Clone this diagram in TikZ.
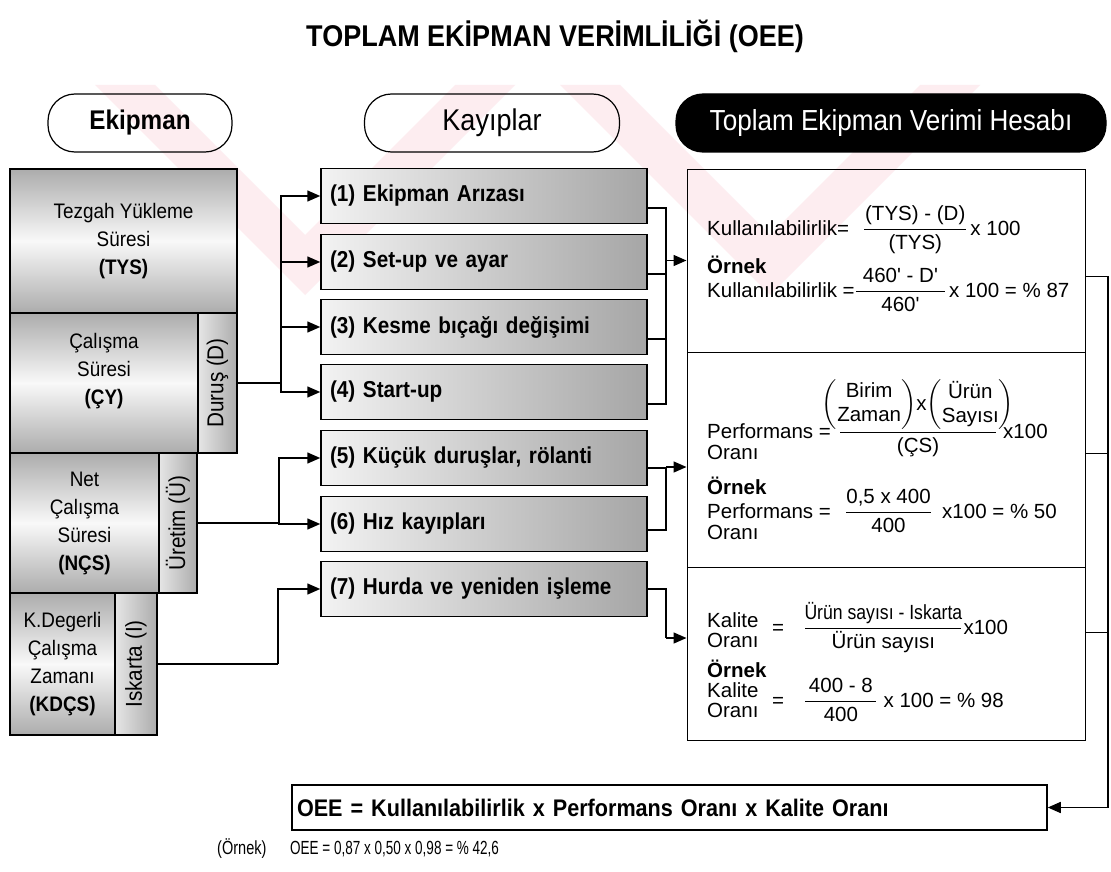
\documentclass[tikz,border=0pt]{standalone}
\usepackage{amsmath}
\usepackage{graphicx}
\usepackage{fontspec}
\setmainfont{Liberation Sans}[FakeStretch=0.9]
\newfontfamily\duz{Liberation Sans}
\usetikzlibrary{arrows.meta}

\definecolor{filigran}{RGB}{253,237,240}

\newcommand{\kesir}[3]{$\dfrac{\makebox[#1]{#2}}{\makebox[#1]{#3}}$}
\newcommand{\parantez}[1]{$\left(\begin{tabular}{@{}c@{}}#1\end{tabular}\right)$}

\tikzset{
  pill/.style={draw, line width=1.2pt, rounded corners=27pt, minimum height=58pt, inner sep=0pt},
  ekip/.style={draw, line width=1.2pt, inner sep=0pt, align=center,
    top color=gray!65, bottom color=gray!65, middle color=gray!5,
    font=\fontsize{21}{28}\selectfont},
  serit/.style={draw, line width=1.2pt, inner sep=0pt,
    left color=gray!20, right color=gray!65, font=\fontsize{23}{24}\selectfont},
  kayip/.style={draw, line width=1.5pt, minimum width=326pt, minimum height=55pt,
    text width=308pt, align=left, inner xsep=9pt,
    left color=gray!10, right color=gray!70, font=\bfseries\fontsize{23}{26}\selectfont},
  hesapkutu/.style={draw, line width=1pt, minimum width=398pt, inner sep=0pt},
  yazi/.style={inner sep=0pt, anchor=base west, font=\duz\fontsize{20.5}{24}\selectfont},
  kalin/.style={font=\duz\bfseries\fontsize{20.5}{24}\selectfont},
  hat/.style={line width=1.5pt},
  ok/.style={line width=1.5pt, -{Triangle[length=13pt,width=11pt]}},
}

\begin{document}
\begin{tikzpicture}[x=1pt,y=-1pt]
\useasboundingbox (0,0) rectangle (1111,872);
\fill[white] (0,0) rectangle (1111,872);

% filigran
\fill[filigran] (95,85) -- (155,85) -- (305,235) -- (455,85) -- (515,85) -- (305,295) -- cycle;
\fill[filigran] (560,85) -- (620,85) -- (770,235) -- (920,85) -- (980,85) -- (770,295) -- cycle;

\node[font=\bfseries\fontsize{30}{32}\selectfont] (baslik) at (555,36) {TOPLAM EKİPMAN VERİMLİLİĞİ (OEE)};

\node[pill, minimum width=184pt, font=\bfseries\fontsize{27}{30}\selectfont] (ekipman) at (140,123) {Ekipman};
\node[pill, minimum width=255pt, font=\fontsize{30}{32}\selectfont] (kayiplar) at (492,123) {Kayıplar};
\node[pill, fill=black, text=white, minimum width=430pt, font=\fontsize{29}{32}\selectfont] (hesap) at (891,123) {Toplam Ekipman Verimi Hesabı};

% ekipman sureleri
\node[ekip, minimum width=227pt, minimum height=144pt] (tys) at (123.5,241) {Tezgah Yükleme\\Süresi\\\textbf{(TYS)}};
\node[ekip, minimum width=188pt, minimum height=140pt] (cy) at (104,383) {Çalışma\\Süresi\\\textbf{(ÇY)}\\\mbox{}};
\node[serit, minimum width=39pt, minimum height=140pt] (D) at (217.5,383) {\rotatebox{90}{Duruş (D)}};
\node[ekip, minimum width=149pt, minimum height=140pt] (ncs) at (84.5,523) {Net\\Çalışma\\Süresi\\\textbf{(NÇS)}};
\node[serit, minimum width=38pt, minimum height=140pt] (U) at (178,523) {\rotatebox{90}{Üretim (Ü)}};
\node[ekip, minimum width=105pt, minimum height=142pt] (kdcs) at (62.5,664) {K.Degerli\\Çalışma\\Zamanı\\\textbf{(KDÇS)}};
\node[serit, minimum width=42pt, minimum height=142pt] (I) at (136,664) {\rotatebox{90}{Iskarta (I)}};

% kayiplar
\node[kayip] (k1) at (484,196) {(1) Ekipman Arızası};
\node[kayip] (k2) at (484,262) {(2) Set-up ve ayar};
\node[kayip] (k3) at (484,327) {(3) Kesme bıçağı değişimi};
\node[kayip] (k4) at (484,392) {(4) Start-up};
\node[kayip] (k5) at (484,458) {(5) Küçük duruşlar, rölanti};
\node[kayip] (k6) at (484,524) {(6) Hız kayıpları};
\node[kayip] (k7) at (484,589) {(7) Hurda ve yeniden işleme};

% hesap kutulari
\node[hesapkutu, minimum height=183pt] (kul) at (886,260.5) {};
\node[hesapkutu, minimum height=215pt] (perf) at (886,459.5) {};
\node[hesapkutu, minimum height=173pt] (kal) at (886,653.5) {};

\node[yazi] (kulf) at (707,235) {Kullanılabilirlik=\hspace{14pt}\kesir{102pt}{(TYS) - (D)}{(TYS)}\hspace{3pt}x 100};
\node[yazi, kalin] (kulo) at (707,273) {Örnek};
\node[yazi] (kule) at (707,297) {Kullanılabilirlik =\kesir{89pt}{460' - D'}{460'}\hspace{3pt}x 100 = \% 87};

\node[yazi] (perff) at (707,438) {Performans =\hspace{8pt}\kesir{156pt}{\parantez{Birim\\Zaman}x\parantez{Ürün\\Sayısı}}{(ÇS)}\hspace{6pt}x100};
\node[yazi] (perfo) at (707,459) {Oranı};
\node[yazi, kalin] (perfx) at (707,494) {Örnek};
\node[yazi] (perfe) at (707,518) {Performans =\hspace{14pt}\kesir{85pt}{0,5 x 400}{400}\hspace{10pt}x100 = \% 50};
\node[yazi] (perfo2) at (707,539) {Oranı};

\node[yazi] (kall) at (707,627) {Kalite};
\node[yazi] (kalo) at (707,647) {Oranı};
\node[yazi] (kalf) at (772,634) {=\hspace{20pt}\kesir{156pt}{\scalebox{0.86}[1]{Ürün sayısı - Iskarta}}{Ürün sayısı}\hspace{1pt}x100};
\node[yazi, kalin] (kalx) at (707,677) {Örnek};
\node[yazi] (kall2) at (707,697) {Kalite};
\node[yazi] (kalo2) at (707,717) {Oranı};
\node[yazi] (kale) at (772,707) {=\hspace{20pt}\kesir{71pt}{400 - 8}{400}\hspace{6pt}x 100 = \% 98};

% sonuc
\node[draw, line width=1.5pt, minimum width=755pt, minimum height=45pt, text width=745pt, align=left,
  inner xsep=5pt, font=\bfseries\fontsize{24}{26}\selectfont] (oee) at (669.5,807.5)
  {OEE = Kullanılabilirlik x Performans Oranı x Kalite Oranı};
\node[yazi, font=\fontsize{19}{20}\selectfont] (ornek) at (217,854) {\scalebox{0.85}[1]{(Örnek)}};
\node[yazi, font=\fontsize{19}{20}\selectfont] (ornekoee) at (290,854) {\scalebox{0.79}[1]{OEE = 0,87 x 0,50 x 0,98 = \% 42,6}};

% baglantilar
\coordinate (dj) at (281,383);
\draw[hat] (D.east) -- (dj);
\draw[ok] (dj) |- (k1.west);
\draw[ok] (dj) |- (k2.west);
\draw[ok] (dj) |- (k3.west);
\draw[ok] (dj) |- (k4.west);
\coordinate (uj) at (279,523);
\draw[hat] (U.east) -- (uj);
\draw[ok] (uj) |- (k5.west);
\draw[ok] (uj) |- (k6.west);
\coordinate (ij) at (278,664);
\draw[hat] (I.east) -- (ij);
\draw[ok] (ij) |- (k7.west);

\coordinate (rj1) at (666,260.5);
\draw[hat] ([yshift=-12pt]k1.east) -| (rj1);
\draw[hat] ([yshift=-12pt]k2.east) -| (rj1);
\draw[hat] ([yshift=-12pt]k3.east) -| (rj1);
\draw[hat] ([yshift=-12pt]k4.east) -| (rj1);
\draw[ok] (rj1) -- (kul.west);
\coordinate (rj2) at (666,467);
\draw[hat] ([yshift=-10pt]k5.east) -| (rj2);
\draw[hat] ([yshift=-6pt]k6.east) -| (rj2);
\draw[ok] (rj2) -- (rj2 -| perf.west);
\coordinate (rj3) at (666,638);
\draw[hat] (k7.east) -| (rj3);
\draw[ok] (rj3) -- (rj3 -| kal.west);

\coordinate (sag) at (1108,807.5);
\draw[hat] ([yshift=-16pt]kul.east) -| (sag);
\draw[hat] ([yshift=6pt]perf.east) -| (sag);
\draw[hat] ([yshift=21pt]kal.east) -| (sag);
\draw[ok] (sag) -- (oee.east);
\end{tikzpicture}
\end{document}
